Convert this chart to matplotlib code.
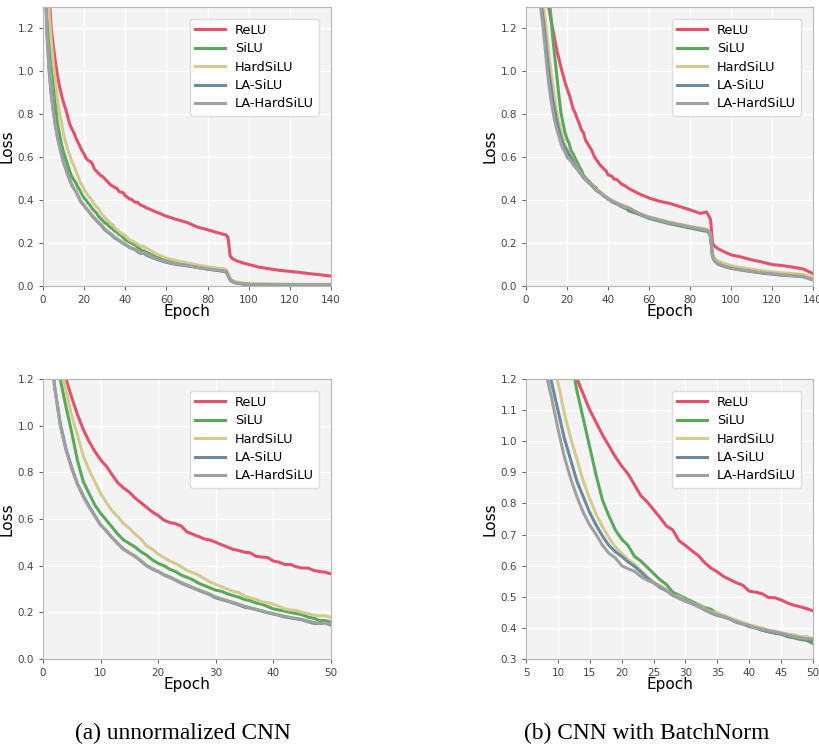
import matplotlib.pyplot as plt
import numpy as np

names = ['ReLU', 'SiLU', 'HardSiLU', 'LA-SiLU', 'LA-HardSiLU']
colors = ['#e5506c', '#5aa95a', '#d2cb8e', '#6b8a9e', '#a0a0a0']

epochs = list(range(0, 51)) + [55, 60, 65, 70, 75, 80, 85, 88, 89, 90, 91, 92, 94, 97,
                               100, 105, 110, 115, 120, 125, 130, 135, 140]

# (a) unnormalized CNN
relu_a = [2.3, 1.8, 1.55, 1.35, 1.2, 1.12, 1.047, 0.983, 0.933, 0.89, 0.854, 0.826, 0.79,
          0.755, 0.733, 0.715, 0.69, 0.67, 0.65, 0.63, 0.615, 0.595, 0.585, 0.58, 0.57,
          0.545, 0.535, 0.525, 0.515, 0.51, 0.5, 0.49, 0.48, 0.47, 0.465, 0.458, 0.455,
          0.44, 0.437, 0.435, 0.42, 0.415, 0.405, 0.405, 0.395, 0.39, 0.39, 0.38, 0.375,
          0.372, 0.365,
          0.345, 0.325, 0.31, 0.296, 0.275, 0.262, 0.248, 0.24, 0.238, 0.225, 0.14, 0.128,
          0.118, 0.108, 0.1, 0.088, 0.08, 0.073, 0.068, 0.063, 0.057, 0.052, 0.046]
silu_a = [2.2, 1.7, 1.4, 1.2, 1.08, 0.97, 0.85, 0.76, 0.71, 0.66, 0.625, 0.595, 0.565,
          0.535, 0.51, 0.495, 0.48, 0.46, 0.445, 0.425, 0.41, 0.4, 0.385, 0.375, 0.36,
          0.35, 0.34, 0.325, 0.315, 0.305, 0.295, 0.29, 0.28, 0.272, 0.265, 0.255, 0.25,
          0.24, 0.235, 0.225, 0.215, 0.21, 0.205, 0.2, 0.195, 0.19, 0.18, 0.175, 0.165,
          0.165, 0.158,
          0.135, 0.118, 0.108, 0.1, 0.09, 0.082, 0.074, 0.07, 0.068, 0.05, 0.03, 0.022,
          0.015, 0.011, 0.009, 0.008, 0.007, 0.006, 0.006, 0.005, 0.005, 0.005, 0.005]
hard_a = [2.3, 1.8, 1.5, 1.27, 1.15, 1.04, 0.96, 0.87, 0.81, 0.76, 0.71, 0.67, 0.635,
          0.61, 0.58, 0.56, 0.535, 0.515, 0.485, 0.47, 0.45, 0.435, 0.42, 0.41, 0.395,
          0.38, 0.37, 0.36, 0.345, 0.33, 0.32, 0.31, 0.3, 0.29, 0.285, 0.27, 0.262, 0.255,
          0.245, 0.242, 0.235, 0.225, 0.215, 0.21, 0.208, 0.2, 0.195, 0.188, 0.185, 0.185,
          0.178,
          0.15, 0.13, 0.118, 0.108, 0.098, 0.09, 0.083, 0.08, 0.078, 0.06, 0.035, 0.026,
          0.019, 0.014, 0.012, 0.011, 0.01, 0.009, 0.009, 0.008, 0.008, 0.008, 0.007]
lasilu_a = [2.0, 1.45, 1.17, 1.01, 0.9, 0.82, 0.75, 0.7, 0.655, 0.615, 0.575, 0.55, 0.52,
            0.495, 0.47, 0.455, 0.44, 0.42, 0.4, 0.385, 0.375, 0.36, 0.35, 0.338, 0.325,
            0.315, 0.305, 0.295, 0.285, 0.275, 0.262, 0.255, 0.248, 0.24, 0.232, 0.222,
            0.218, 0.212, 0.205, 0.198, 0.193, 0.187, 0.18, 0.176, 0.172, 0.168, 0.16,
            0.153, 0.152, 0.155, 0.145,
            0.125, 0.11, 0.1, 0.094, 0.086, 0.078, 0.072, 0.068, 0.066, 0.048, 0.028, 0.02,
            0.013, 0.009, 0.007, 0.006, 0.005, 0.005, 0.004, 0.004, 0.004, 0.004, 0.004]
lahard_a = [2.0, 1.45, 1.17, 1.0, 0.895, 0.815, 0.748, 0.695, 0.652, 0.612, 0.575, 0.548,
            0.52, 0.495, 0.472, 0.455, 0.44, 0.422, 0.4, 0.388, 0.375, 0.362, 0.352, 0.34,
            0.328, 0.318, 0.307, 0.297, 0.288, 0.278, 0.266, 0.258, 0.25, 0.243, 0.235,
            0.226, 0.22, 0.213, 0.207, 0.2, 0.195, 0.189, 0.183, 0.178, 0.174, 0.17, 0.163,
            0.157, 0.153, 0.156, 0.15,
            0.127, 0.112, 0.102, 0.096, 0.088, 0.08, 0.074, 0.07, 0.068, 0.05, 0.03, 0.021,
            0.014, 0.01, 0.008, 0.007, 0.006, 0.006, 0.005, 0.005, 0.005, 0.005, 0.005]

# (b) CNN with BatchNorm
relu_b = [2.3, 2.25, 2.2, 2.12, 2.02, 1.9, 1.78, 1.66, 1.55, 1.45, 1.37, 1.3, 1.25, 1.2,
          1.15, 1.1, 1.06, 1.02, 0.985, 0.95, 0.92, 0.895, 0.86, 0.825, 0.805, 0.78, 0.755,
          0.728, 0.715, 0.68, 0.665, 0.648, 0.633, 0.61, 0.592, 0.58, 0.565, 0.555, 0.545,
          0.537, 0.518, 0.515, 0.51, 0.498, 0.497, 0.49, 0.48, 0.473, 0.468, 0.462, 0.455,
          0.43, 0.41, 0.395, 0.385, 0.37, 0.355, 0.338, 0.345, 0.33, 0.31, 0.2, 0.185,
          0.172, 0.158, 0.145, 0.135, 0.122, 0.112, 0.1, 0.095, 0.088, 0.08, 0.058]
silu_b = [2.3, 2.25, 2.2, 2.12, 2.03, 1.93, 1.83, 1.73, 1.63, 1.53, 1.44, 1.36, 1.27, 1.16,
          1.07, 0.98, 0.89, 0.81, 0.76, 0.715, 0.685, 0.665, 0.63, 0.615, 0.595, 0.575,
          0.555, 0.54, 0.515, 0.505, 0.495, 0.485, 0.475, 0.465, 0.46, 0.445, 0.44, 0.43,
          0.42, 0.415, 0.405, 0.4, 0.393, 0.388, 0.385, 0.38, 0.372, 0.368, 0.363, 0.36,
          0.35,
          0.335, 0.315, 0.302, 0.29, 0.28, 0.27, 0.26, 0.255, 0.25, 0.23, 0.14, 0.122,
          0.108, 0.097, 0.088, 0.08, 0.072, 0.065, 0.06, 0.055, 0.052, 0.048, 0.035]
hard_b = [2.3, 2.2, 2.08, 1.95, 1.8, 1.66, 1.53, 1.42, 1.35, 1.27, 1.19, 1.09, 1.01, 0.94,
          0.87, 0.815, 0.765, 0.725, 0.69, 0.66, 0.64, 0.62, 0.605, 0.585, 0.565, 0.548,
          0.533, 0.52, 0.505, 0.5, 0.49, 0.48, 0.472, 0.462, 0.452, 0.448, 0.44, 0.432,
          0.425, 0.418, 0.41, 0.405, 0.4, 0.392, 0.39, 0.385, 0.38, 0.378, 0.372, 0.372,
          0.365,
          0.34, 0.322, 0.31, 0.298, 0.288, 0.278, 0.27, 0.265, 0.26, 0.24, 0.15, 0.13,
          0.115, 0.104, 0.095, 0.086, 0.078, 0.071, 0.066, 0.061, 0.058, 0.054, 0.04]
lasilu_b = [2.3, 2.15, 2.0, 1.85, 1.7, 1.56, 1.44, 1.34, 1.27, 1.19, 1.1, 1.01, 0.94, 0.87,
            0.82, 0.77, 0.73, 0.695, 0.665, 0.645, 0.63, 0.612, 0.598, 0.58, 0.56, 0.545,
            0.53, 0.52, 0.505, 0.495, 0.488, 0.478, 0.47, 0.458, 0.448, 0.44, 0.435, 0.428,
            0.418, 0.412, 0.405, 0.4, 0.393, 0.388, 0.383, 0.38, 0.375, 0.372, 0.368, 0.362,
            0.36,
            0.335, 0.318, 0.305, 0.293, 0.283, 0.273, 0.263, 0.258, 0.255, 0.23, 0.135,
            0.115, 0.1, 0.09, 0.082, 0.074, 0.067, 0.06, 0.055, 0.05, 0.047, 0.043, 0.028]
lahard_b = [2.3, 2.12, 1.96, 1.8, 1.65, 1.51, 1.4, 1.31, 1.23, 1.14, 1.04, 0.95, 0.88, 0.82,
            0.77, 0.73, 0.7, 0.665, 0.64, 0.625, 0.6, 0.59, 0.582, 0.565, 0.553, 0.545,
            0.535, 0.522, 0.508, 0.495, 0.485, 0.478, 0.468, 0.46, 0.45, 0.443, 0.435,
            0.428, 0.42, 0.413, 0.408, 0.4, 0.395, 0.392, 0.387, 0.383, 0.378, 0.372, 0.368,
            0.365, 0.365,
            0.337, 0.32, 0.307, 0.295, 0.285, 0.275, 0.265, 0.26, 0.257, 0.232, 0.138,
            0.118, 0.103, 0.092, 0.084, 0.076, 0.069, 0.062, 0.057, 0.052, 0.049, 0.045, 0.03]

series_a = [relu_a, silu_a, hard_a, lasilu_a, lahard_a]
series_b = [relu_b, silu_b, hard_b, lasilu_b, lahard_b]

fig = plt.figure(figsize=(8.2, 7.44), dpi=100)


def draw(rect, data, xlim, ylim, xticks, yticks):
    ax = fig.add_axes(rect)
    ax.set_facecolor('#f3f3f3')
    ax.grid(True, color='white', linewidth=1.0)
    ax.set_axisbelow(True)
    for name, col, ys in zip(names, colors, data):
        ax.plot(epochs, ys, color=col, linewidth=2.2, label=name)
    ax.set_xlim(*xlim)
    ax.set_ylim(*ylim)
    ax.set_xticks(xticks)
    ax.set_yticks(yticks)
    ax.tick_params(labelsize=7.5, colors='#444444', length=3, width=0.6)
    for s in ax.spines.values():
        s.set_color('#b5b5b5')
        s.set_linewidth(0.8)
    ax.set_xlabel('Epoch', fontsize=11, labelpad=-1)
    ax.set_ylabel('Loss', fontsize=11)
    ax.yaxis.set_label_coords(-0.1, 0.5)
    ax.legend(loc='upper right', fontsize=9.3, handlelength=2.3, labelspacing=0.42,
              borderaxespad=0.9, framealpha=1.0, facecolor='white', edgecolor='#dddddd')
    return ax


top_x = np.arange(0, 141, 20)
draw([0.0524, 0.6156, 0.3512, 0.375], series_a, (0, 140), (0, 1.3), top_x,
     np.arange(0, 1.21, 0.2))
draw([0.6415, 0.6156, 0.35, 0.375], series_b, (0, 140), (0, 1.3), top_x,
     np.arange(0, 1.21, 0.2))
draw([0.0524, 0.1142, 0.3512, 0.3764], series_a, (0, 50), (0, 1.2),
     np.arange(0, 51, 10), np.arange(0, 1.21, 0.2))
draw([0.6415, 0.1142, 0.35, 0.3764], series_b, (5, 50), (0.3, 1.2),
     np.arange(5, 51, 5), np.arange(0.3, 1.21, 0.1))

fig.text(0.223, 0.0148, '(a) unnormalized CNN', ha='center', va='center',
         fontsize=16.8, family='Liberation Serif')
fig.text(0.789, 0.0148, '(b) CNN with BatchNorm', ha='center', va='center',
         fontsize=16.8, family='Liberation Serif')

fig.savefig('out.png', dpi=100)
